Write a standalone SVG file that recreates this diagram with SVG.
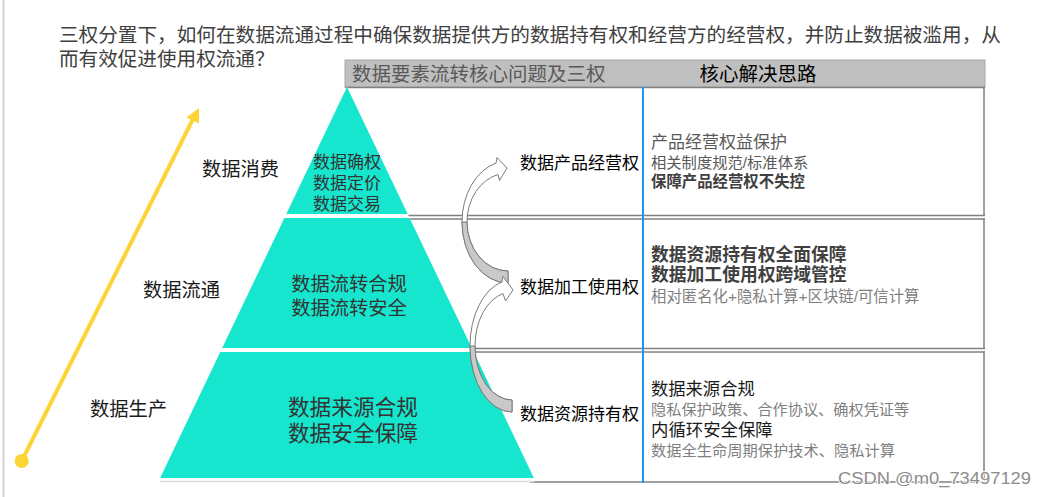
<svg xmlns="http://www.w3.org/2000/svg" width="1046" height="497" viewBox="0 0 1046 497">
<style>
text{font-family:"Liberation Sans","Noto Sans CJK SC",sans-serif;}
.q{font-size:19.6px;fill:#404040;}
.hd{font-size:19.5px;}
.lab{font-size:19.3px;fill:#1a1a1a;}
.pt{fill:#333333;text-anchor:middle;}
.rl{font-size:17px;fill:#000;}
.g1{fill:#595959;}
.g2{fill:#7f7f7f;}
.bd{font-weight:bold;fill:#404040;}
.tl{stroke:#808080;stroke-width:1.5;fill:none;}
.layer{fill:#16E6CE;}
.carrow{fill:#ffffff;stroke:#7a7a7a;stroke-width:1;}
.cback{fill:#c9c9c9;stroke:#7a7a7a;stroke-width:1;}
</style>
<rect x="0" y="0" width="1046" height="497" fill="#ffffff"/>
<rect x="2.5" y="0" width="2" height="497" fill="#d4d4d4"/>

<g id="question">
<text class="q" x="59" y="42.4" textLength="942" lengthAdjust="spacingAndGlyphs">三权分置下，如何在数据流通过程中确保数据提供方的数据持有权和经营方的经营权，并防止数据被滥用，从</text>
<text class="q" x="59" y="66.4">而有效促进使用权流通？</text>
</g>

<g id="table-header">
<rect x="345" y="60" width="640" height="27" fill="#bfbfbf" stroke="#a8a8a8" stroke-width="1"/>
<text class="hd g1" x="352" y="81">数据要素流转核心问题及三权</text>
<text class="hd" x="758" y="81" text-anchor="middle" fill="#000">核心解决思路</text>
</g>

<g id="table-grid">
<line class="tl" x1="345" y1="87.5" x2="985" y2="87.5"/>
<line class="tl" x1="400" y1="215.5" x2="985" y2="215.5"/>
<line class="tl" x1="984" y1="87" x2="984" y2="216"/>
<line class="tl" x1="400" y1="219" x2="985" y2="219"/>
<line class="tl" x1="460" y1="348.5" x2="985" y2="348.5"/>
<line class="tl" x1="984" y1="218.5" x2="984" y2="349"/>
<line class="tl" x1="460" y1="352" x2="985" y2="352"/>
<line class="tl" x1="530" y1="482" x2="985" y2="482"/>
<line class="tl" x1="984" y1="351.5" x2="984" y2="482.5"/>
<line x1="160" y1="481.5" x2="534" y2="481.5" stroke="#dcdcdc" stroke-width="1.5"/>
<line x1="643" y1="87" x2="643" y2="483" stroke="#1e96f0" stroke-width="2"/>
</g>

<g id="pyramid">
<polygon points="347,87 160,478 534,478" fill="#ffffff"/>
<g id="layer-top">
<polygon class="layer" points="347,87 407.7,214 286.3,214"/>
<text class="pt" font-size="17" x="347" y="168">数据确权</text>
<text class="pt" font-size="17" x="347" y="189">数据定价</text>
<text class="pt" font-size="17" x="347" y="209.5">数据交易</text>
</g>
<g id="layer-mid">
<polygon class="layer" points="284.4,218 409.6,218 471.8,348 222.2,348"/>
<text class="pt" font-size="19.3" x="349" y="291.3">数据流转合规</text>
<text class="pt" font-size="19.3" x="349" y="315.3">数据流转安全</text>
</g>
<g id="layer-bottom">
<polygon class="layer" points="220.3,352 473.7,352 533.9,478 160.1,478"/>
<text class="pt" font-size="21.7" x="353" y="415">数据来源合规</text>
<text class="pt" font-size="21.7" x="353" y="441">数据安全保障</text>
</g>
</g>

<g id="stage-labels">
<text class="lab" x="202" y="176.3">数据消费</text>
<text class="lab" x="143" y="297.3">数据流通</text>
<text class="lab" x="90" y="416.3">数据生产</text>
</g>

<g id="row1">
<text class="rl" x="520" y="168.5">数据产品经营权</text>
<text class="g1" font-size="17" x="651" y="147.5">产品经营权益保护</text>
<text class="g1" font-size="15.3" x="651" y="167.8">相关制度规范/标准体系</text>
<text class="bd" font-size="15.4" x="651" y="187">保障产品经营权不失控</text>
</g>
<g id="row2">
<text class="rl" x="520" y="292.5">数据加工使用权</text>
<text class="bd" font-size="17.8" x="651" y="261">数据资源持有权全面保障</text>
<text class="bd" font-size="17.8" x="651" y="281">数据加工使用权跨域管控</text>
<text class="g2" font-size="15.4" x="651" y="302">相对匿名化+隐私计算+区块链/可信计算</text>
</g>
<g id="row3">
<text class="rl" x="520" y="419.5">数据资源持有权</text>
<text font-size="17.3" fill="#1a1a1a" x="651" y="394.5">数据来源合规</text>
<text class="g2" font-size="15.2" x="651" y="415">隐私保护政策、合作协议、确权凭证等</text>
<text font-size="17.4" fill="#1a1a1a" x="651" y="435.6">内循环安全保障</text>
<text class="g2" font-size="15.25" x="651" y="456">数据全生命周期保护技术、隐私计算</text>
</g>

<g id="connectors">
<g id="curved-arrow-1">
<path class="carrow" d="M508,283 A46,61 0 0 1 462,222 A46,61 0 0 1 496,163.1 L497,157.5 L507,168 L499.5,180.5 L498,174.5 A41,49 0 0 0 467,222 A41,49 0 0 0 508,271 Z"/>
<path class="cback" d="M508,283 A46,61 0 0 1 462,222 L467,222 A41,49 0 0 0 508,271 Z"/>
</g>
<g id="curved-arrow-2">
<path class="carrow" d="M512,412 A42,66 0 0 1 470,346 A42,66 0 0 1 502,281.9 L503,276.5 L513,290 L505.5,301 L503,293.6 A37,54 0 0 0 475,346 A37,54 0 0 0 512,400 Z"/>
<path class="cback" d="M512,412 A42,66 0 0 1 470,346 L475,346 A37,54 0 0 0 512,400 Z"/>
</g>
<g id="growth-arrow">
<line x1="21.7" y1="461" x2="194" y2="117" stroke="#FCD535" stroke-width="4"/>
<polygon points="199,108 199,123.6 186.4,117.4" fill="#FCD535"/>
<circle cx="21.7" cy="461" r="7" fill="#FCD535"/>
</g>
</g>

<g id="watermark">
<text x="838" y="483.5" font-size="16" fill="#8c8c8c" stroke="#ffffff" stroke-width="2" paint-order="stroke" textLength="193" lengthAdjust="spacingAndGlyphs">CSDN @m0_73497129</text>
</g>
</svg>
